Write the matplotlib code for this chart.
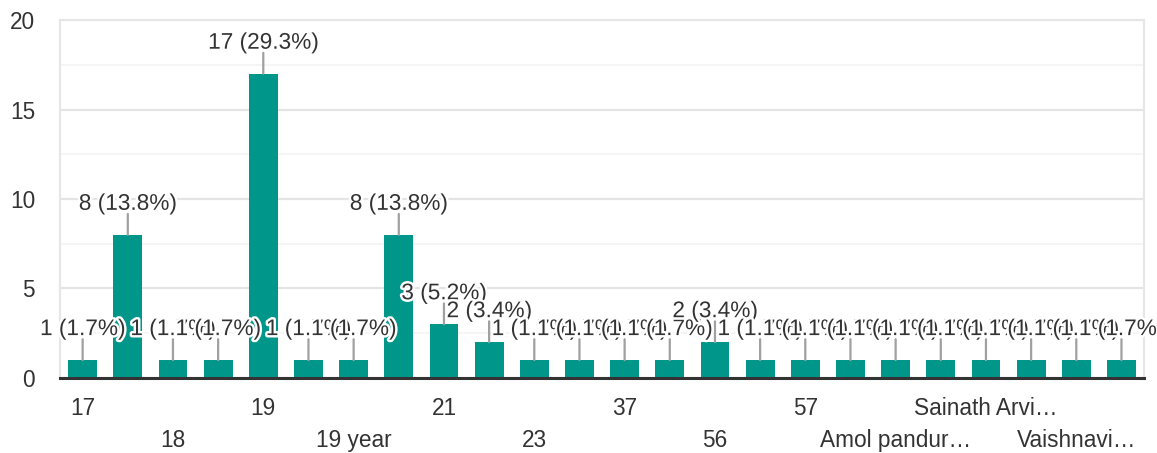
import matplotlib.pyplot as plt
import matplotlib.patheffects as pe
from matplotlib.ticker import MultipleLocator

plt.rcParams['font.family'] = ['Liberation Sans', 'DejaVu Sans']

# responses per answer (sorted as in the form summary)
counts = [1, 8, 1, 1, 17, 1, 1, 8, 3, 2, 1, 1, 1, 1, 2, 1, 1, 1, 1, 1, 1, 1, 1, 1]
# only every second answer gets a visible axis label
tick_labels = ["17", "", "18", "", "19", "", "19 year", "", "21", "", "23", "",
               "37", "", "56", "", "57", "", "Amol pandur…", "", "Sainath Arvi…", "",
               "Vaishnavi…", ""]

total = sum(counts)
teal = '#00978a'
txt = '#333333'
fs = 16.3

fig = plt.figure(figsize=(11.57, 4.53), dpi=100)
ax = fig.add_axes([0.0519, 0.1656, 0.9369, 0.7902])

x = list(range(len(counts)))
ax.bar(x, counts, width=0.64, color=teal, zorder=3)

ax.set_xlim(-0.5, len(counts) - 0.5)
ax.set_ylim(0, 20)
ax.yaxis.set_major_locator(MultipleLocator(5))
ax.yaxis.set_minor_locator(MultipleLocator(2.5))
ax.grid(axis='y', which='major', color='#e4e4e4', lw=1.6, zorder=0)
ax.grid(axis='y', which='minor', color='#f3f3f3', lw=1.2, zorder=0)
ax.tick_params(axis='y', which='both', length=0, pad=18, labelsize=fs, labelcolor=txt)
ax.set_xticks([])

for side in ['left', 'top', 'right']:
    ax.spines[side].set_color('#e6e6e6')
    ax.spines[side].set_linewidth(1.5)
ax.spines['bottom'].set_color('#333333')
ax.spines['bottom'].set_linewidth(2.2)
ax.spines['bottom'].set_zorder(5)

# category labels in two staggered rows
for i, lab in enumerate(tick_labels):
    if not lab:
        continue
    row = (i // 2) % 2
    ax.annotate(lab, xy=(i, 0), xycoords=('data', 'axes fraction'),
                xytext=(0, -13.5 - 23.5 * row), textcoords='offset points',
                ha='center', va='top', fontsize=fs, color=txt, annotation_clip=False)

# value labels with leader lines
halo = [pe.withStroke(linewidth=3.5, foreground='white')]
for i, v in enumerate(counts):
    ax.annotate('', xy=(i, v), xytext=(0, 15), textcoords='offset points',
                arrowprops=dict(arrowstyle='-', color='#a0a0a0', lw=1.6,
                                shrinkA=0, shrinkB=0), zorder=4)
for i, v in enumerate(counts):
    ax.annotate(f"{v} ({v / total * 100:.1f}%)", xy=(i, v), xytext=(0, 18),
                textcoords='offset points', ha='center', va='baseline',
                fontsize=fs, color=txt, path_effects=halo, zorder=6,
                annotation_clip=False)

fig.savefig('out.png', dpi=100)
